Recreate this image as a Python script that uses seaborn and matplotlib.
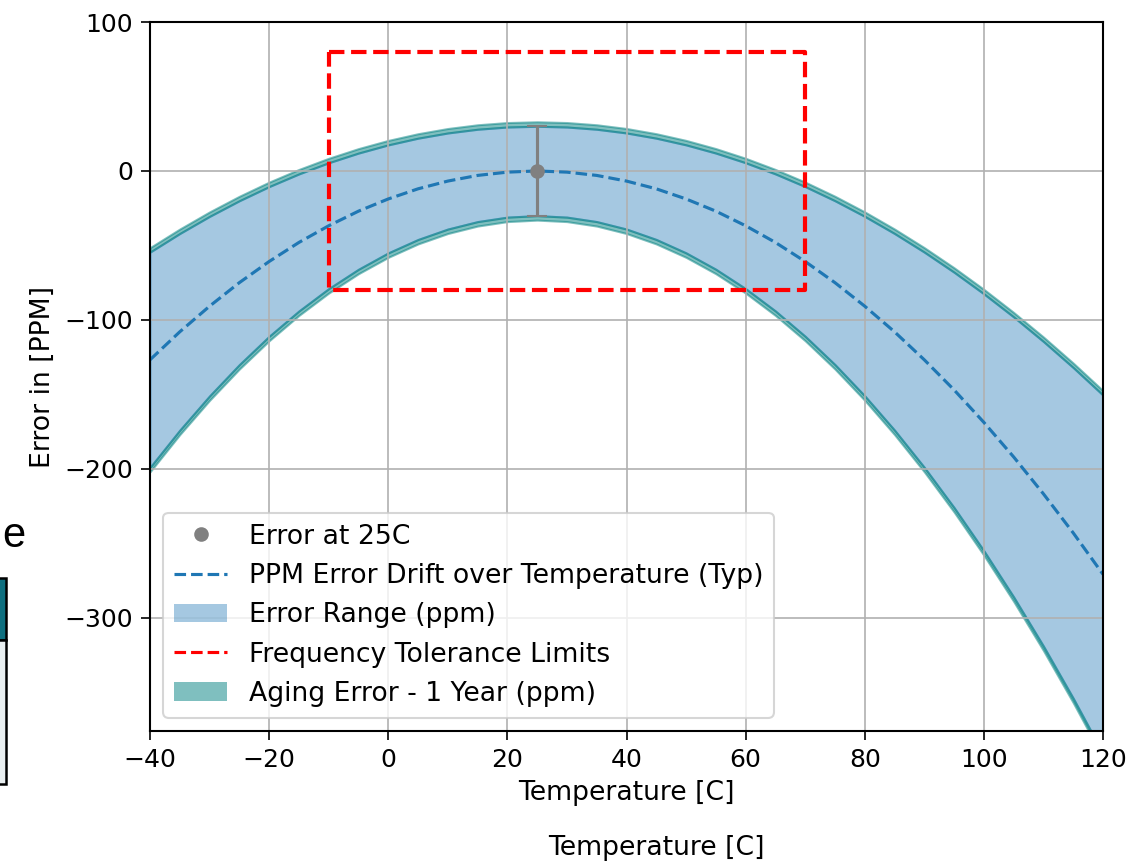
import matplotlib
matplotlib.use("Agg")
import matplotlib.pyplot as plt
from matplotlib.patches import Patch, Rectangle
from matplotlib.lines import Line2D
import seaborn as sns
import numpy as np

# temperatures (C) and error values (ppm)
temps = [-40, -35, -30, -25, -20, -15, -10, -5, 0, 5, 10, 15, 20, 25, 30, 35, 40,
         45, 50, 55, 60, 65, 70, 75, 80, 85, 90, 95, 100, 105, 110, 115, 120]
drift_typ = [-126.8, -108, -90.8, -75, -60.8, -48, -36.8, -27, -18.8, -12, -6.8, -3, -0.8, 0,
             -0.8, -3, -6.8, -12, -18.8, -27, -36.8, -48, -60.8, -75, -90.8, -108, -126.8,
             -147, -168.8, -192, -216.8, -243, -270.8]
range_upper = [-54.5, -42, -30.5, -20, -10.5, -2, 5.5, 12, 17.5, 22, 25.5, 28, 29.5, 30,
               29.5, 28, 25.5, 22, 17.5, 12, 5.5, -2, -10.5, -20, -30.5, -42, -54.5,
               -68, -82.5, -98, -114.5, -132, -150.5]
range_lower = [-199, -174, -151, -130, -111, -94, -79, -66, -55, -46, -39, -34, -31, -30,
               -31, -34, -39, -46, -55, -66, -79, -94, -111, -130, -151, -174, -199,
               -226, -255, -286, -319, -354, -391]
aging_ppm = 3

ref_temp = 25
ref_error = 0
ref_tol = 30

tol_x = [-10, 70, 70, -10, -10]
tol_y = [80, 80, -80, -80, 80]

plt.rcParams.update({
    "font.size": 12.8,
    "xtick.labelsize": 12,
    "ytick.labelsize": 12,
    "xtick.major.size": 4.5,
    "ytick.major.size": 4.5,
    "axes.linewidth": 1.0,
})

t = np.array(temps)
up = np.array(range_upper)
lo = np.array(range_lower)

fig = plt.figure(figsize=(1127 / 150, 862 / 150), dpi=150)
ax = fig.add_axes([150 / 1127, 1 - 731 / 862, (1103 - 150) / 1127, (731 - 22) / 862])

ax.fill_between(t, lo, up, color="tab:blue", alpha=0.4)
ax.fill_between(t, up, up + aging_ppm, color="teal", alpha=0.5)
ax.fill_between(t, lo - aging_ppm, lo, color="teal", alpha=0.5)

sns.lineplot(x=temps, y=drift_typ, ax=ax, color="tab:blue", linestyle="--", linewidth=1.5)

ax.plot(tol_x, tol_y, color="red", linestyle="--", linewidth=2)

ax.errorbar(ref_temp, ref_error, yerr=ref_tol, fmt="o", color="gray", capsize=5)

ax.set_xlim(-40, 120)
ax.set_ylim(-376, 100)
ax.grid(True)
ax.set_xlabel("Temperature [C]")
ax.set_ylabel("Error in [PPM]")

handles = [
    Line2D([], [], marker="o", linestyle="none", color="gray"),
    Line2D([], [], color="tab:blue", linestyle="--", linewidth=1.5),
    Patch(facecolor="tab:blue", alpha=0.4),
    Line2D([], [], color="red", linestyle="--", linewidth=1.5),
    Patch(facecolor="teal", alpha=0.5),
]
labels = ["Error at 25C", "PPM Error Drift over Temperature (Typ)", "Error Range (ppm)",
          "Frequency Tolerance Limits", "Aging Error - 1 Year (ppm)"]
ax.legend(handles, labels, loc="lower left")

# bits of the surrounding page captured in the screenshot
fig.text(656 / 1127, 1 - 848 / 862, "Temperature [C]", ha="center", va="center", fontsize=12.8)
fig.text(2 / 1127, 1 - 547 / 862, "e", ha="left", va="baseline", fontsize=20,
         family="Liberation Sans")
fig.add_artist(Rectangle((-0.01, 1 - 640 / 862), 0.01 + 6 / 1127, 62 / 862,
                         transform=fig.transFigure, facecolor="#0e6f7f", edgecolor="black", lw=1.2))
fig.add_artist(Rectangle((-0.01, 1 - 784 / 862), 0.01 + 6 / 1127, 144 / 862,
                         transform=fig.transFigure, facecolor="#e9eff1", edgecolor="black", lw=1.2))

fig.savefig("out.png", dpi=150)
